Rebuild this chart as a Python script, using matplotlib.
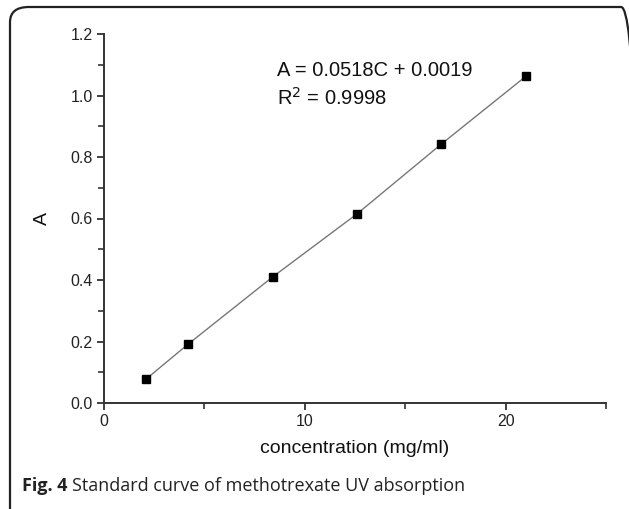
import matplotlib
matplotlib.use("Agg")
import matplotlib.pyplot as plt
from matplotlib.patches import FancyBboxPatch
from matplotlib.ticker import MultipleLocator

conc = [2.1, 4.2, 8.4, 12.6, 16.8, 21.0]
absorb = [0.078, 0.192, 0.41, 0.615, 0.842, 1.062]
x_ticks = [0, 10, 20]
y_ticks = [0.0, 0.2, 0.4, 0.6, 0.8, 1.0, 1.2]
eq_text = "A = 0.0518C + 0.0019"
r2_text = "R$^{2}$ = 0.9998"

W, H = 629, 509
fig = plt.figure(figsize=(W / 100, H / 100), dpi=100)
plt.rcParams['font.family'] = ['Liberation Sans', 'DejaVu Sans']

# outer rounded frame
frame = FancyBboxPatch((10 / W, -20 / H), (640 - 10) / W, (H - 7 + 20) / H,
                       boxstyle="round,pad=0,rounding_size=0.03",
                       transform=fig.transFigure, fill=False,
                       edgecolor='#222222', linewidth=1.6, clip_on=False)
fig.patches.append(frame)

ax = fig.add_axes([104 / W, (H - 403) / H, (606 - 104) / W, (403 - 34) / H])
ax.plot(conc, absorb, color='#777777', linewidth=1.0, zorder=2)
ax.plot(conc, absorb, linestyle='none', marker='s', markersize=6,
        color='black', zorder=3)

ax.set_xlim(0, 25)
ax.set_ylim(0, 1.2)
ax.set_xticks(x_ticks)
ax.set_xticklabels([str(t) for t in x_ticks])
ax.set_yticks(y_ticks)
ax.set_yticklabels([f"{t:.1f}" for t in y_ticks])
ax.xaxis.set_minor_locator(MultipleLocator(5))
ax.yaxis.set_minor_locator(MultipleLocator(0.1))

for s in ['top', 'right']:
    ax.spines[s].set_visible(False)
for s in ['left', 'bottom']:
    ax.spines[s].set_color('#333333')
    ax.spines[s].set_linewidth(1.4)

ax.tick_params(axis='both', which='major', direction='out', length=5,
               width=1.3, color='#333333', labelsize=11.5, labelcolor='#222222', pad=3)
ax.tick_params(axis='both', which='minor', direction='out', length=4,
               width=1.2, color='#333333')

ax.set_xlabel("concentration (mg/ml)", fontsize=14, color='#111111', labelpad=8)
ax.set_ylabel("A", fontsize=14, color='#111111', labelpad=14)

fig.text(277 / W, 1 - 70 / H, eq_text, fontsize=14.5, color='#111111',
         va='center', ha='left')
fig.text(277 / W, 1 - 98 / H, r2_text, fontsize=14.5, color='#111111',
         va='center', ha='left')

# caption
cap1 = fig.text(22 / W, 1 - 486 / H, "Fig. 4", fontsize=13, fontweight='bold',
                family=['Open Sans', 'DejaVu Sans'], color='#222222',
                va='center', ha='left')
fig.canvas.draw()
bb = cap1.get_window_extent()
fig.text((bb.x1 + 5) / W, 1 - 486 / H, "Standard curve of methotrexate UV absorption",
         fontsize=13, family=['Open Sans', 'DejaVu Sans'], color='#222222',
         va='center', ha='left')

fig.savefig("out.png", dpi=100)
